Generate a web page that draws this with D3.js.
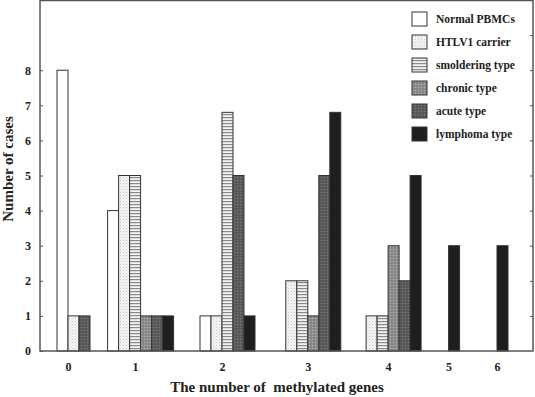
<!DOCTYPE html>
<html>
<head>
<meta charset="utf-8">
<script src="https://cdn.jsdelivr.net/npm/d3@7"></script>
<style>
  html, body { margin: 0; padding: 0; background: #fff; }
  svg text { font-family: "Liberation Serif", "Times New Roman", serif; font-weight: bold; fill: #222; }
</style>
</head>
<body>
<svg id="chart" width="535" height="397"></svg>
<script>
// ---- data ----
const groups = ["0", "1", "2", "3", "4", "5", "6"];
const seriesNames = ["Normal PBMCs", "HTLV1 carrier", "smoldering type", "chronic type", "acute type", "lymphoma type"];
const normal     = [8, 4, 1, 0, 0, 0, 0];
const htlv1      = [1, 5, 1, 2, 1, 0, 0];
const smoldering = [0, 5, 6.8, 2, 1, 0, 0];
const chronic    = [0, 1, 0, 1, 3, 0, 0];
const acute      = [1, 1, 5, 5, 2, 0, 0];
const lymphoma   = [0, 1, 1, 6.8, 5, 3, 3];
const yTicks = [0, 1, 2, 3, 4, 5, 6, 7, 8];
const xTitle = "The number of  methylated genes";
const yTitle = "Number of cases";

const seriesValues = [normal, htlv1, smoldering, chronic, acute, lymphoma];

// ---- layout ----
const svg = d3.select("#chart");
const plot = { left: 40, right: 533, top: 0, bottom: 351 };
const barsStart = 57, slotW = 11;
const groupGaps = [1.6, 2.4, 2.8, 2.3, 2.5, 3.4];
const fills = ["#ffffff", "url(#pHtlv)", "url(#pSmold)", "url(#pChronic)", "url(#pAcute)", "#1e1e1e"];

// patterns
const defs = svg.append("defs");
function pat(id, w, h, bg, draw) {
  const p = defs.append("pattern").attr("id", id).attr("patternUnits", "userSpaceOnUse")
    .attr("width", w).attr("height", h);
  p.append("rect").attr("width", w).attr("height", h).attr("fill", bg);
  draw(p);
}
pat("pHtlv", 3, 3, "#f6f6f6", p => {
  p.append("rect").attr("x", 0).attr("y", 0).attr("width", 1).attr("height", 1).attr("fill", "#c8c8c8");
  p.append("rect").attr("x", 1.5).attr("y", 1.5).attr("width", 1).attr("height", 1).attr("fill", "#d8d8d8");
});
pat("pSmold", 4, 3, "#f2f2f2", p => {
  p.append("rect").attr("x", 0).attr("y", 0).attr("width", 4).attr("height", 1.2).attr("fill", "#8a8a8a");
});
pat("pChronic", 3, 3, "#8e8e8e", p => {
  p.append("rect").attr("x", 0).attr("y", 0).attr("width", 1).attr("height", 1).attr("fill", "#b4b4b4");
  p.append("rect").attr("x", 1.5).attr("y", 1.5).attr("width", 1).attr("height", 1).attr("fill", "#6e6e6e");
});
pat("pAcute", 3, 3, "#5c5c5c", p => {
  p.append("rect").attr("x", 0).attr("y", 0).attr("width", 1).attr("height", 1).attr("fill", "#7e7e7e");
  p.append("rect").attr("x", 1.5).attr("y", 1.5).attr("width", 1).attr("height", 1).attr("fill", "#444");
});

// build packed bar list (zero bars omitted, remaining bars packed within each group)
const bars = [];
const groupInfo = [];
let slot = 0;
groups.forEach((g, gi) => {
  const start = slot;
  seriesValues.forEach((vals, si) => {
    if (vals[gi] > 0) {
      bars.push({ group: g, series: si, value: vals[gi], slot: slot });
      slot += 1;
    }
  });
  groupInfo.push({ group: g, start: start, end: slot });
  if (gi < groupGaps.length) slot += groupGaps[gi];
});

const x = d3.scaleLinear().domain([0, slot]).range([barsStart, barsStart + slot * slotW]);
const y = d3.scaleLinear().domain([0, 10]).range([plot.bottom, plot.top]);

// bars
svg.append("g").selectAll("rect").data(bars).join("rect")
  .attr("x", d => x(d.slot))
  .attr("y", d => y(d.value))
  .attr("width", d => x(d.slot + 1) - x(d.slot))
  .attr("height", d => y(0) - y(d.value))
  .attr("fill", d => fills[d.series])
  .attr("stroke", "#333")
  .attr("stroke-width", 1);

// frame
svg.append("rect")
  .attr("x", plot.left).attr("y", plot.top + 0.5)
  .attr("width", plot.right - plot.left).attr("height", plot.bottom - plot.top - 0.5)
  .attr("fill", "none").attr("stroke", "#555").attr("stroke-width", 1.5);

// left axis
const yAxis = d3.axisLeft(y).tickValues(yTicks).tickFormat(d3.format("d")).tickSizeInner(-3).tickSizeOuter(0).tickPadding(9);
const gy = svg.append("g").attr("transform", `translate(${plot.left},0)`).call(yAxis);
gy.select(".domain").remove();
gy.selectAll(".tick line").attr("stroke", "#555");
gy.selectAll(".tick text").attr("font-size", 12).attr("fill", "#222")
  .attr("font-family", "Liberation Serif").attr("font-weight", "bold");

// right axis (ticks only)
const yAxisR = d3.axisRight(y).tickValues(d3.range(1, 10)).tickSizeInner(-3).tickSizeOuter(0).tickFormat("");
const gyr = svg.append("g").attr("transform", `translate(${plot.right},0)`).call(yAxisR);
gyr.select(".domain").remove();
gyr.selectAll(".tick line").attr("stroke", "#555");

// x category labels
svg.append("g").selectAll("text").data(groupInfo).join("text")
  .attr("x", d => (x(d.start) + x(d.end)) / 2 - 5)
  .attr("y", 371)
  .attr("text-anchor", "middle")
  .attr("font-size", 12)
  .text(d => d.group);

// axis titles
svg.append("text").attr("x", 277).attr("y", 392).attr("text-anchor", "middle")
  .attr("font-size", 15).attr("xml:space", "preserve").style("white-space", "pre").text(xTitle);
svg.append("text").attr("transform", "translate(13,169) rotate(-90)").attr("text-anchor", "middle")
  .attr("font-size", 15).text(yTitle);

// legend
const legend = svg.append("g").attr("transform", "translate(412,12)");
const rowH = 23;
seriesNames.forEach((name, i) => {
  legend.append("rect").attr("x", 0).attr("y", i * rowH).attr("width", 15).attr("height", 14)
    .attr("fill", fills[i]).attr("stroke", "#333").attr("stroke-width", 1);
  legend.append("text").attr("x", 24).attr("y", i * rowH + 10.5).attr("font-size", 11.5).text(name);
});
</script>
</body>
</html>
